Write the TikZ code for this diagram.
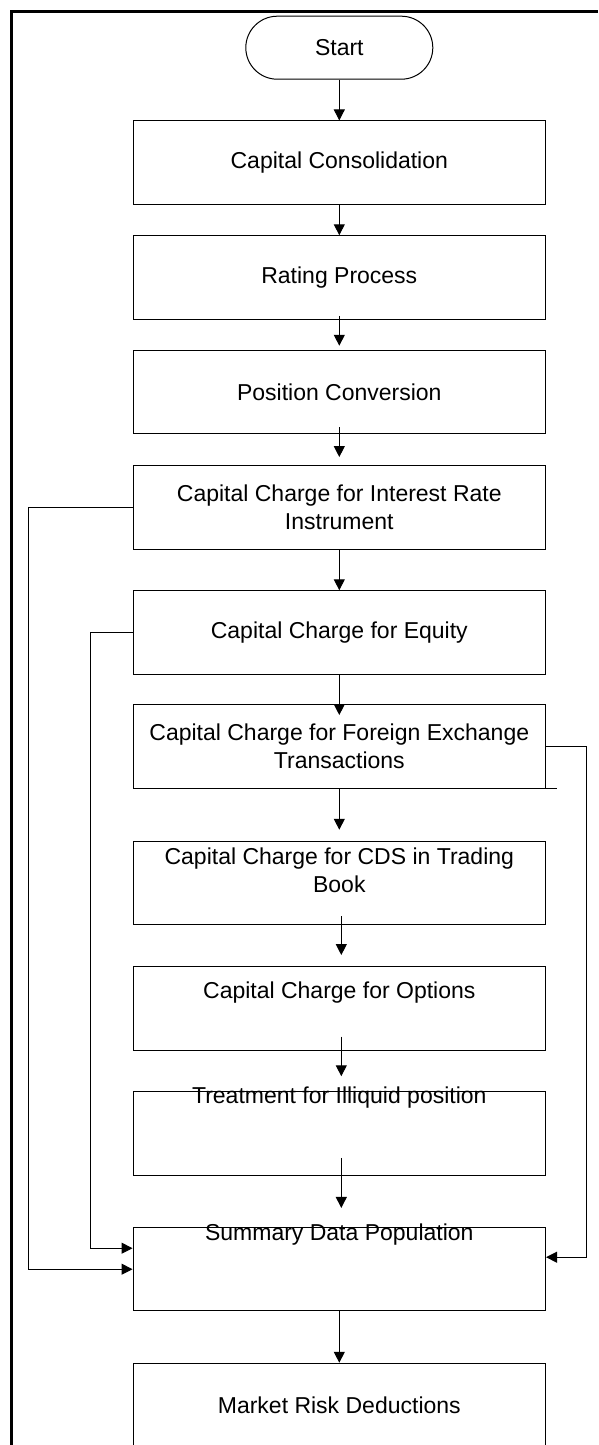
\documentclass[tikz,border=0pt]{standalone}
\usepackage{fontspec}
\setmainfont{Liberation Sans}
\usetikzlibrary{arrows.meta,positioning}

\begin{document}
\begin{tikzpicture}[
    x=1pt, y=-1pt,
    >={Triangle[length=11pt,width=11pt]},
    line width=1pt,
    font=\fontsize{23}{27.6}\selectfont,
    termbox/.style={draw, rounded corners=31.5pt, minimum width=187pt, minimum height=63pt},
    stepbox/.style={draw, minimum width=412.5pt, minimum height=83.5pt, inner sep=0pt, align=center},
    steptext/.style={align=center, inner sep=0pt}
]
  \useasboundingbox (0,0) rectangle (598,1445);
  % frame
  \draw[line width=3pt] (11,1445) -- (11,12) -- (598,12);

  % nodes
  \node[termbox] (start) at (339.3,47.7) {Start};
  \node[stepbox] (consol) at (339.3,162.7) {Capital Consolidation};
  \node[stepbox] (rating) at (339.3,277.5) {Rating Process};
  \node[stepbox] (posconv) at (339.3,392) {Position Conversion};
  \node[stepbox] (irate) at (339.3,507.3) {Capital Charge for Interest Rate\\Instrument};
  \node[stepbox] (equity) at (339.3,632.5) {Capital Charge for Equity};
  \node[stepbox] (fx) at (339.3,746.3) {Capital Charge for Foreign Exchange\\Transactions};
  \node[stepbox] (cds) at (339.3,883) {};
  \node[steptext, yshift=-29.3pt] (cds-t) at (cds.north) {Capital Charge for CDS in Trading\\Book};
  \node[stepbox] (options) at (339.3,1008.3) {};
  \node[steptext, yshift=-26pt] (options-t) at (options.north) {Capital Charge for Options};
  \node[stepbox] (illiq) at (339.3,1133.5) {};
  \node[steptext, yshift=-6.3pt] (illiq-t) at (illiq.north) {Treatment for Illiquid position};
  \node[stepbox] (summary) at (339.3,1269.2) {};
  \node[steptext, yshift=-7.7pt] (summary-t) at (summary.north) {Summary Data Population};
  \node[stepbox] (mrd) at (339.3,1405) {Market Risk Deductions};

  % edges
  \draw[->] (start) -- (consol);
  \draw[->] (consol) -- (rating);
  \draw[->, shorten <=-4pt, shorten >=4pt] (rating) -- (posconv);
  \draw[->, shorten <=-7pt, shorten >=8pt] (posconv) -- (irate);
  \draw[->] (irate) -- (equity);
  \draw[->, shorten >=-11pt] (equity) -- (fx);
  \draw[->, shorten >=11pt] (fx) -- (cds);
  \draw[->, shorten <=-9pt, shorten >=11pt] ([xshift=2pt]cds.south) -- ([xshift=2pt]options.north);
  \draw[->, shorten <=-14pt, shorten >=15pt] ([xshift=2pt]options.south) -- ([xshift=2pt]illiq.north);
  \draw[->, shorten <=-18pt, shorten >=19pt] ([xshift=2pt]illiq.south) -- ([xshift=2pt]summary.north);
  \draw[->] (summary) -- (mrd);

  % side connectors
  \draw[->] (irate.west) -- ++(-103.7,0) |- (summary.west);
  \draw[->] (equity.west) -- ++(-42.3,0) |- ([yshift=21pt]summary.west);
  \draw[->] (fx.east) -- ++(40.8,0) |- ([yshift=12pt]summary.east);
  \draw (fx.south east) -- ++(11,0);
\end{tikzpicture}
\end{document}
